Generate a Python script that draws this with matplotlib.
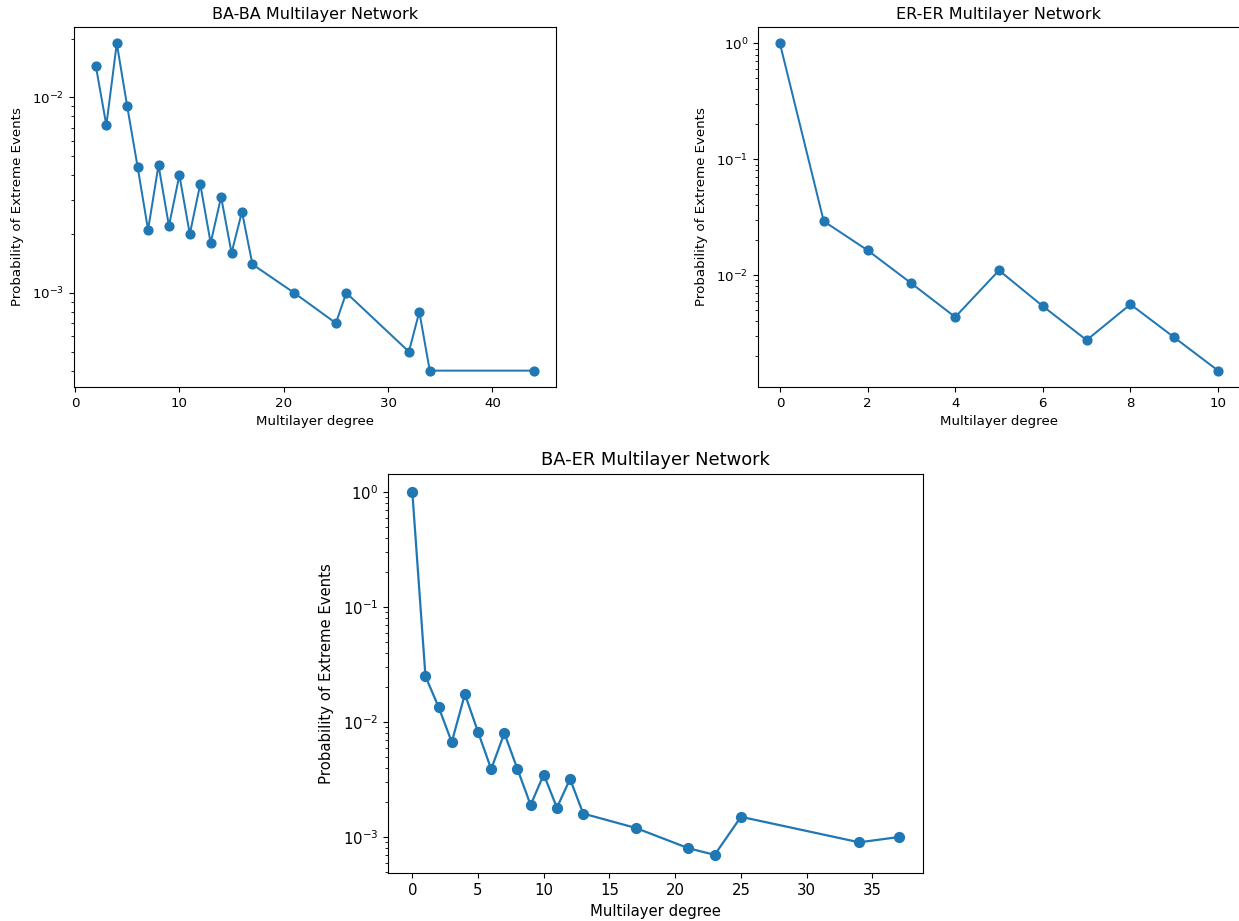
import matplotlib
matplotlib.use("Agg")
import matplotlib.pyplot as plt

# BA-BA multilayer network
ba_ba_degree = [2, 3, 4, 5, 6, 7, 8, 9, 10, 11, 12, 13, 14, 15, 16, 17,
                21, 25, 26, 32, 33, 34, 44]
ba_ba_prob = [0.0144, 0.0072, 0.0189, 0.0090, 0.0044, 0.0021, 0.0045,
              0.0022, 0.0040, 0.0020, 0.0036, 0.0018, 0.0031, 0.0016,
              0.0026, 0.0014, 0.0010, 0.0007, 0.0010, 0.0005, 0.0008,
              0.0004, 0.0004]

# ER-ER multilayer network
er_er_degree = [0, 1, 2, 3, 4, 5, 6, 7, 8, 9, 10]
er_er_prob = [1.0, 0.0292, 0.0164, 0.0085, 0.00435, 0.0110, 0.0054,
              0.00275, 0.0056, 0.0029, 0.0015]

# BA-ER multilayer network
ba_er_degree = [0, 1, 2, 3, 4, 5, 6, 7, 8, 9, 10, 11, 12, 13,
                17, 21, 23, 25, 34, 37]
ba_er_prob = [1.0, 0.025, 0.0135, 0.0067, 0.0175, 0.0082, 0.0039, 0.0080,
              0.0039, 0.0019, 0.0035, 0.0018, 0.0032, 0.0016, 0.0012,
              0.0008, 0.0007, 0.0015, 0.0009, 0.0010]

W, H = 1239., 921.

fig = plt.figure(figsize=(W / 100, H / 100), dpi=100)

def box(x0, y0, x1, y1):
    # pixel box -> figure fraction
    return [x0 / W, 1 - y1 / H, (x1 - x0) / W, (y1 - y0) / H]

ax1 = fig.add_axes(box(74, 27, 556, 387))
ax2 = fig.add_axes(box(758, 27, 1240, 387))
ax3 = fig.add_axes(box(388, 474, 923, 873))

def draw(ax, x, y, title, s):
    # s: scale of the panel relative to matplotlib defaults
    ax.plot(x, y, marker='o', color='#1f77b4', markersize=6.6 * s, linewidth=1.5 * s)
    ax.set_yscale('log')
    ax.set_title(title, fontsize=12 * s, pad=6 * s)
    ax.set_xlabel('Multilayer degree', fontsize=10 * s, labelpad=4 * s)
    ax.set_ylabel('Probability of Extreme Events', fontsize=10 * s, labelpad=6 * s)
    ax.tick_params(labelsize=10 * s)

draw(ax1, ba_ba_degree, ba_ba_prob, 'BA-BA Multilayer Network', 0.96)
draw(ax2, er_er_degree, er_er_prob, 'ER-ER Multilayer Network', 0.96)
draw(ax3, ba_er_degree, ba_er_prob, 'BA-ER Multilayer Network', 1.07)

fig.savefig('out.png', dpi=100)
